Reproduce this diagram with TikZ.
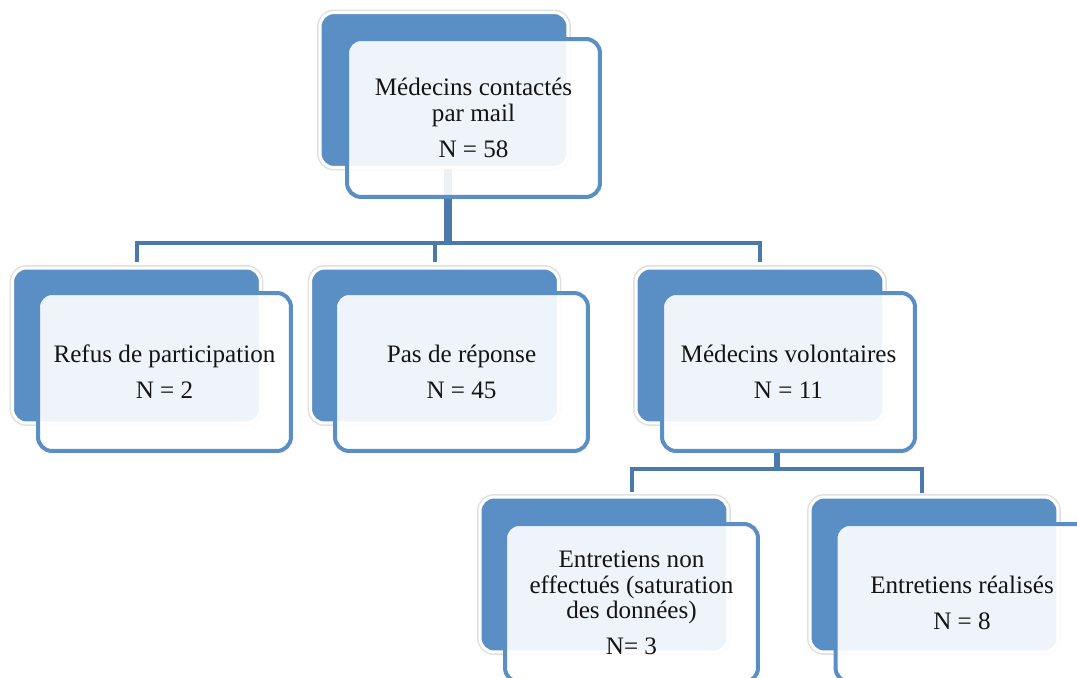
\documentclass[tikz,border=0pt]{standalone}
\usepackage{tikz}
\usepackage{fontspec}
\setmainfont{Liberation Serif}

\definecolor{boxblue}{RGB}{90,143,197}
\definecolor{linkblue}{RGB}{74,122,172}

\tikzset{
  backbox/.style={rectangle, rounded corners=0.28cm, fill=boxblue, draw=white,
    line width=0.06cm, minimum width=4.96cm, minimum height=3.1cm,
    preaction={draw=black!12, line width=0.12cm}},
  frontbox/.style={rectangle, rounded corners=0.28cm, draw=boxblue, line width=0.08cm,
    fill=white, fill opacity=0.9, text opacity=1, minimum width=5.06cm,
    minimum height=3.16cm, align=center, text=black!92,
    font=\fontsize{14.3}{14.5}\selectfont},
  link/.style={draw=linkblue, line width=0.08cm},
}

\begin{document}
\begin{tikzpicture}[x=0.02cm, y=-0.02cm]
\clip (0,0) rectangle (1077,678);

\foreach \n/\x/\y in {mailB/444/90, refusB/136.5/345.5, pasB/434.5/345.5,% back boxes
    volB/760/345.5, nonB/604/574.5, realB/934/574.5}{
    \node[backbox] (\n) at (\x,\y) {};}

\coordinate (j1) at (448,243);
\draw[link, line width=0.16cm] (j1 |- mailB.south) -- (j1);
\draw[link, shorten <=0.1cm, shorten >=0.1cm] (refusB.north) |- (j1) -| (volB.north);
\draw[link, shorten >=0.1cm] (j1) -| (pasB.north);

\node[frontbox] (mail) at (473.5,118) {Médecins contactés\\par mail\\[6pt]N = 58};
\node[frontbox] (refus) at (164.5,372) {Refus de participation\\[6pt]N = 2};
\node[frontbox] (pas) at (461.5,372) {Pas de réponse\\[6pt]N = 45};
\node[frontbox] (vol) at (788.5,372) {Médecins volontaires\\[6pt]N = 11};
\node[frontbox] (non) at (631.5,603) {Entretiens non\\effectués (saturation\\des données)\\[6pt]N= 3};
\node[frontbox] (real) at (962,603) {Entretiens réalisés\\[6pt]N = 8};

\coordinate (j2) at (777,469);
\coordinate (d5) at (922,497);
\draw[link, line width=0.12cm] (j2 |- vol.south) -- (j2);
\draw[link, shorten <=0.08cm, shorten >=0.08cm] (non.north |- nonB.north) |- (j2) -| (d5);

\end{tikzpicture}
\end{document}
